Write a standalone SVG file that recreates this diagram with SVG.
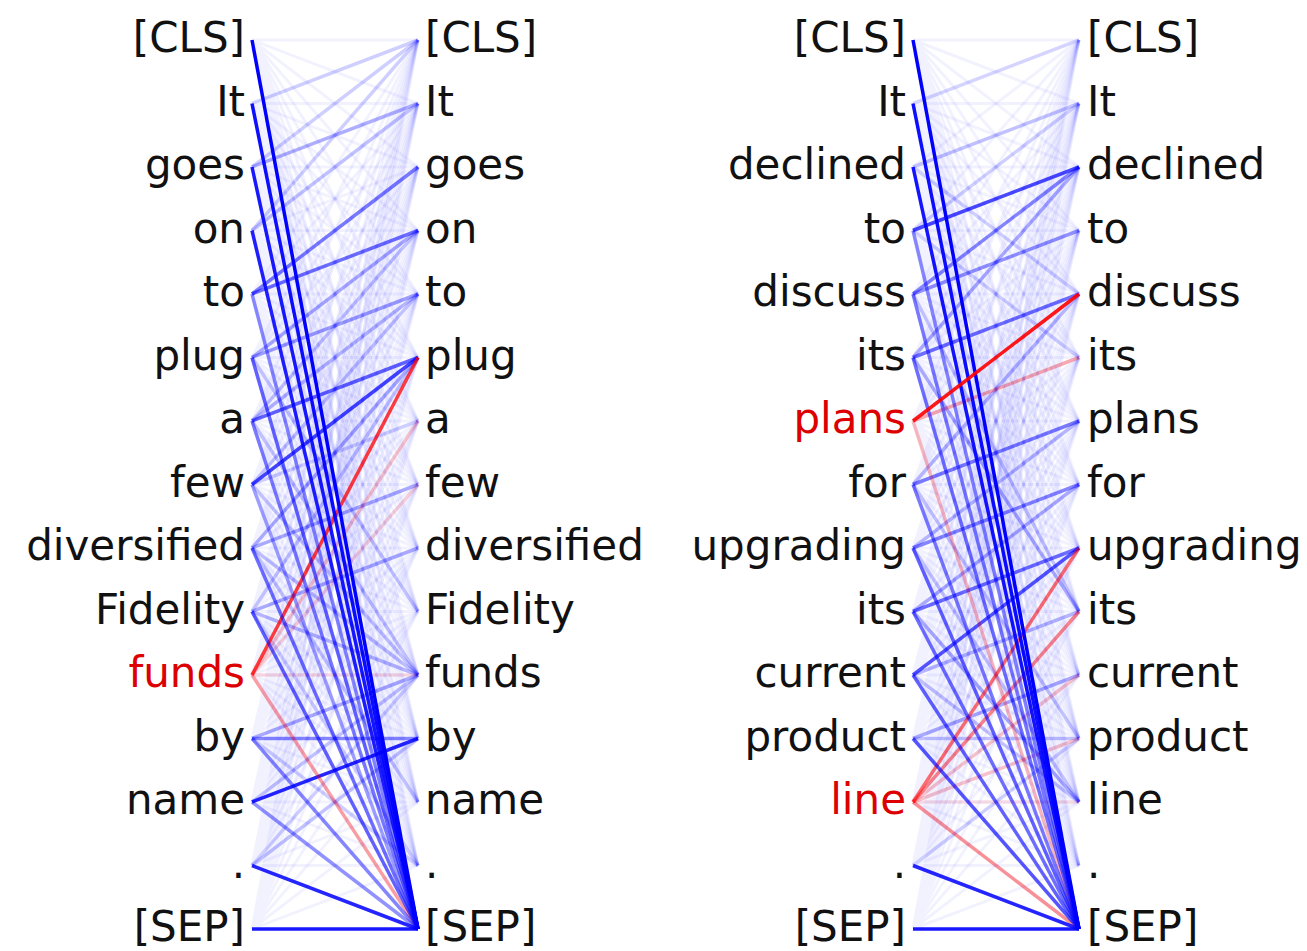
<svg xmlns="http://www.w3.org/2000/svg" xmlns:xlink="http://www.w3.org/1999/xlink" width="1307" height="951" viewBox="0 0 1307 951">
<style>
text{font-family:"DejaVu Sans","Noto Sans",sans-serif;font-size:42px;fill:#111}
.L{text-anchor:end}
.hl{fill:#dd0000}
.bg path{fill:none;stroke:#0000ff;stroke-opacity:0.05;stroke-width:3}
line{stroke-width:3.5;fill:none}
.b{stroke:#0000ff}
.r{stroke:#ff0000}
</style>
<rect width="1307" height="951" fill="#fff"/>
<defs>
<g id="bgfan" class="bg">
<path d="M252 40L418 40M252 40L418 103.5M252 40L418 167M252 40L418 230.5M252 40L418 294M252 40L418 357.5M252 40L418 421M252 40L418 484.5M252 40L418 548M252 40L418 611.5M252 40L418 675M252 40L418 738.5M252 40L418 802M252 40L418 865.5M252 40L418 929"/>
<path d="M252 103.5L418 40M252 103.5L418 103.5M252 103.5L418 167M252 103.5L418 230.5M252 103.5L418 294M252 103.5L418 357.5M252 103.5L418 421M252 103.5L418 484.5M252 103.5L418 548M252 103.5L418 611.5M252 103.5L418 675M252 103.5L418 738.5M252 103.5L418 802M252 103.5L418 865.5M252 103.5L418 929"/>
<path d="M252 167L418 40M252 167L418 103.5M252 167L418 167M252 167L418 230.5M252 167L418 294M252 167L418 357.5M252 167L418 421M252 167L418 484.5M252 167L418 548M252 167L418 611.5M252 167L418 675M252 167L418 738.5M252 167L418 802M252 167L418 865.5M252 167L418 929"/>
<path d="M252 230.5L418 40M252 230.5L418 103.5M252 230.5L418 167M252 230.5L418 230.5M252 230.5L418 294M252 230.5L418 357.5M252 230.5L418 421M252 230.5L418 484.5M252 230.5L418 548M252 230.5L418 611.5M252 230.5L418 675M252 230.5L418 738.5M252 230.5L418 802M252 230.5L418 865.5M252 230.5L418 929"/>
<path d="M252 294L418 40M252 294L418 103.5M252 294L418 167M252 294L418 230.5M252 294L418 294M252 294L418 357.5M252 294L418 421M252 294L418 484.5M252 294L418 548M252 294L418 611.5M252 294L418 675M252 294L418 738.5M252 294L418 802M252 294L418 865.5M252 294L418 929"/>
<path d="M252 357.5L418 40M252 357.5L418 103.5M252 357.5L418 167M252 357.5L418 230.5M252 357.5L418 294M252 357.5L418 357.5M252 357.5L418 421M252 357.5L418 484.5M252 357.5L418 548M252 357.5L418 611.5M252 357.5L418 675M252 357.5L418 738.5M252 357.5L418 802M252 357.5L418 865.5M252 357.5L418 929"/>
<path d="M252 421L418 40M252 421L418 103.5M252 421L418 167M252 421L418 230.5M252 421L418 294M252 421L418 357.5M252 421L418 421M252 421L418 484.5M252 421L418 548M252 421L418 611.5M252 421L418 675M252 421L418 738.5M252 421L418 802M252 421L418 865.5M252 421L418 929"/>
<path d="M252 484.5L418 40M252 484.5L418 103.5M252 484.5L418 167M252 484.5L418 230.5M252 484.5L418 294M252 484.5L418 357.5M252 484.5L418 421M252 484.5L418 484.5M252 484.5L418 548M252 484.5L418 611.5M252 484.5L418 675M252 484.5L418 738.5M252 484.5L418 802M252 484.5L418 865.5M252 484.5L418 929"/>
<path d="M252 548L418 40M252 548L418 103.5M252 548L418 167M252 548L418 230.5M252 548L418 294M252 548L418 357.5M252 548L418 421M252 548L418 484.5M252 548L418 548M252 548L418 611.5M252 548L418 675M252 548L418 738.5M252 548L418 802M252 548L418 865.5M252 548L418 929"/>
<path d="M252 611.5L418 40M252 611.5L418 103.5M252 611.5L418 167M252 611.5L418 230.5M252 611.5L418 294M252 611.5L418 357.5M252 611.5L418 421M252 611.5L418 484.5M252 611.5L418 548M252 611.5L418 611.5M252 611.5L418 675M252 611.5L418 738.5M252 611.5L418 802M252 611.5L418 865.5M252 611.5L418 929"/>
<path d="M252 675L418 40M252 675L418 103.5M252 675L418 167M252 675L418 230.5M252 675L418 294M252 675L418 357.5M252 675L418 421M252 675L418 484.5M252 675L418 548M252 675L418 611.5M252 675L418 675M252 675L418 738.5M252 675L418 802M252 675L418 865.5M252 675L418 929"/>
<path d="M252 738.5L418 40M252 738.5L418 103.5M252 738.5L418 167M252 738.5L418 230.5M252 738.5L418 294M252 738.5L418 357.5M252 738.5L418 421M252 738.5L418 484.5M252 738.5L418 548M252 738.5L418 611.5M252 738.5L418 675M252 738.5L418 738.5M252 738.5L418 802M252 738.5L418 865.5M252 738.5L418 929"/>
<path d="M252 802L418 40M252 802L418 103.5M252 802L418 167M252 802L418 230.5M252 802L418 294M252 802L418 357.5M252 802L418 421M252 802L418 484.5M252 802L418 548M252 802L418 611.5M252 802L418 675M252 802L418 738.5M252 802L418 802M252 802L418 865.5M252 802L418 929"/>
<path d="M252 865.5L418 40M252 865.5L418 103.5M252 865.5L418 167M252 865.5L418 230.5M252 865.5L418 294M252 865.5L418 357.5M252 865.5L418 421M252 865.5L418 484.5M252 865.5L418 548M252 865.5L418 611.5M252 865.5L418 675M252 865.5L418 738.5M252 865.5L418 802M252 865.5L418 865.5M252 865.5L418 929"/>
<path d="M252 929L418 40M252 929L418 103.5M252 929L418 167M252 929L418 230.5M252 929L418 294M252 929L418 357.5M252 929L418 421M252 929L418 484.5M252 929L418 548M252 929L418 611.5M252 929L418 675M252 929L418 738.5M252 929L418 802M252 929L418 865.5M252 929L418 929"/>
</g>
</defs>
<g id="connectors">
<g id="conn-left">
<use href="#bgfan" xlink:href="#bgfan"/>
<line class="b" x1="252" y1="103.5" x2="418" y2="40" stroke-opacity="0.15"/>
<line class="b" x1="252" y1="167" x2="418" y2="40" stroke-opacity="0.15"/>
<line class="b" x1="252" y1="230.5" x2="418" y2="40" stroke-opacity="0.15"/>
<line class="b" x1="252" y1="167" x2="418" y2="103.5" stroke-opacity="0.28"/>
<line class="b" x1="252" y1="230.5" x2="418" y2="103.5" stroke-opacity="0.2"/>
<line class="b" x1="252" y1="294" x2="418" y2="167" stroke-opacity="0.5"/>
<line class="b" x1="252" y1="294" x2="418" y2="230.5" stroke-opacity="0.55"/>
<line class="b" x1="252" y1="357.5" x2="418" y2="294" stroke-opacity="0.35"/>
<line class="b" x1="252" y1="357.5" x2="418" y2="230.5" stroke-opacity="0.3"/>
<line class="b" x1="252" y1="421" x2="418" y2="230.5" stroke-opacity="0.2"/>
<line class="b" x1="252" y1="421" x2="418" y2="294" stroke-opacity="0.25"/>
<line class="b" x1="252" y1="484.5" x2="418" y2="294" stroke-opacity="0.2"/>
<line class="b" x1="252" y1="421" x2="418" y2="357.5" stroke-opacity="0.6"/>
<line class="b" x1="252" y1="484.5" x2="418" y2="357.5" stroke-opacity="0.72"/>
<line class="b" x1="252" y1="548" x2="418" y2="357.5" stroke-opacity="0.3"/>
<line class="b" x1="252" y1="611.5" x2="418" y2="357.5" stroke-opacity="0.2"/>
<line class="b" x1="252" y1="484.5" x2="418" y2="421" stroke-opacity="0.15"/>
<line class="b" x1="252" y1="548" x2="418" y2="484.5" stroke-opacity="0.3"/>
<line class="b" x1="252" y1="611.5" x2="418" y2="548" stroke-opacity="0.3"/>
<line class="b" x1="252" y1="357.5" x2="418" y2="611.5" stroke-opacity="0.2"/>
<line class="b" x1="252" y1="421" x2="418" y2="675" stroke-opacity="0.2"/>
<line class="b" x1="252" y1="484.5" x2="418" y2="675" stroke-opacity="0.2"/>
<line class="b" x1="252" y1="548" x2="418" y2="675" stroke-opacity="0.22"/>
<line class="b" x1="252" y1="611.5" x2="418" y2="675" stroke-opacity="0.25"/>
<line class="b" x1="252" y1="548" x2="418" y2="802" stroke-opacity="0.2"/>
<line class="b" x1="252" y1="611.5" x2="418" y2="865.5" stroke-opacity="0.15"/>
<line class="b" x1="252" y1="738.5" x2="418" y2="675" stroke-opacity="0.3"/>
<line class="b" x1="252" y1="802" x2="418" y2="675" stroke-opacity="0.2"/>
<line class="b" x1="252" y1="865.5" x2="418" y2="738.5" stroke-opacity="0.2"/>
<line class="b" x1="252" y1="865.5" x2="418" y2="675" stroke-opacity="0.15"/>
<line class="b" x1="252" y1="738.5" x2="418" y2="865.5" stroke-opacity="0.15"/>
<line class="b" x1="252" y1="738.5" x2="418" y2="738.5" stroke-opacity="0.45"/>
<line class="b" x1="252" y1="802" x2="418" y2="738.5" stroke-opacity="0.85"/>
<line class="r" x1="252" y1="675" x2="418" y2="675" stroke-opacity="0.12"/>
<line class="r" x1="252" y1="675" x2="418" y2="421" stroke-opacity="0.2"/>
<line class="r" x1="252" y1="675" x2="418" y2="484.5" stroke-opacity="0.15"/>
<line class="r" x1="252" y1="675" x2="418" y2="929" stroke-opacity="0.35"/>
<line class="r" x1="252" y1="675" x2="418" y2="357.5" stroke-opacity="0.75"/>
<line class="b" x1="252" y1="294" x2="418" y2="929" stroke-opacity="0.45"/>
<line class="b" x1="252" y1="357.5" x2="418" y2="929" stroke-opacity="0.6"/>
<line class="b" x1="252" y1="421" x2="418" y2="929" stroke-opacity="0.5"/>
<line class="b" x1="252" y1="484.5" x2="418" y2="929" stroke-opacity="0.35"/>
<line class="b" x1="252" y1="548" x2="418" y2="929" stroke-opacity="0.55"/>
<line class="b" x1="252" y1="611.5" x2="418" y2="929" stroke-opacity="0.6"/>
<line class="b" x1="252" y1="738.5" x2="418" y2="929" stroke-opacity="0.45"/>
<line class="b" x1="252" y1="802" x2="418" y2="929" stroke-opacity="0.4"/>
<line class="b" x1="252" y1="865.5" x2="418" y2="929" stroke-opacity="0.85"/>
<line class="b" x1="252" y1="929" x2="418" y2="929" stroke-opacity="0.9"/>
<line class="b" x1="252" y1="230.5" x2="418" y2="929" stroke-opacity="0.88"/>
<line class="b" x1="252" y1="167" x2="418" y2="929" stroke-opacity="0.9"/>
<line class="b" x1="252" y1="103.5" x2="418" y2="929" stroke-opacity="0.95"/>
<line class="b" x1="252" y1="40" x2="418" y2="929" stroke-opacity="1"/>
</g>
<g id="conn-right" transform="translate(661 0)">
<use href="#bgfan" xlink:href="#bgfan"/>
<line class="b" x1="252" y1="103.5" x2="418" y2="40" stroke-opacity="0.12"/>
<line class="b" x1="252" y1="167" x2="418" y2="103.5" stroke-opacity="0.2"/>
<line class="b" x1="252" y1="230.5" x2="418" y2="103.5" stroke-opacity="0.15"/>
<line class="b" x1="252" y1="230.5" x2="418" y2="167" stroke-opacity="0.7"/>
<line class="b" x1="252" y1="294" x2="418" y2="167" stroke-opacity="0.45"/>
<line class="b" x1="252" y1="294" x2="418" y2="230.5" stroke-opacity="0.4"/>
<line class="b" x1="252" y1="357.5" x2="418" y2="167" stroke-opacity="0.3"/>
<line class="b" x1="252" y1="357.5" x2="418" y2="294" stroke-opacity="0.55"/>
<line class="b" x1="252" y1="484.5" x2="418" y2="421" stroke-opacity="0.5"/>
<line class="b" x1="252" y1="484.5" x2="418" y2="294" stroke-opacity="0.25"/>
<line class="b" x1="252" y1="548" x2="418" y2="484.5" stroke-opacity="0.45"/>
<line class="b" x1="252" y1="548" x2="418" y2="421" stroke-opacity="0.25"/>
<line class="b" x1="252" y1="611.5" x2="418" y2="548" stroke-opacity="0.55"/>
<line class="b" x1="252" y1="611.5" x2="418" y2="484.5" stroke-opacity="0.3"/>
<line class="b" x1="252" y1="675" x2="418" y2="548" stroke-opacity="0.65"/>
<line class="b" x1="252" y1="675" x2="418" y2="611.5" stroke-opacity="0.25"/>
<line class="b" x1="252" y1="738.5" x2="418" y2="675" stroke-opacity="0.3"/>
<line class="b" x1="252" y1="738.5" x2="418" y2="738.5" stroke-opacity="0.2"/>
<line class="b" x1="252" y1="865.5" x2="418" y2="738.5" stroke-opacity="0.15"/>
<line class="b" x1="252" y1="357.5" x2="418" y2="611.5" stroke-opacity="0.3"/>
<line class="b" x1="252" y1="294" x2="418" y2="611.5" stroke-opacity="0.2"/>
<line class="b" x1="252" y1="484.5" x2="418" y2="738.5" stroke-opacity="0.2"/>
<line class="b" x1="252" y1="548" x2="418" y2="802" stroke-opacity="0.2"/>
<line class="b" x1="252" y1="611.5" x2="418" y2="802" stroke-opacity="0.3"/>
<line class="b" x1="252" y1="675" x2="418" y2="802" stroke-opacity="0.2"/>
<line class="b" x1="252" y1="230.5" x2="418" y2="357.5" stroke-opacity="0.15"/>
<line class="b" x1="252" y1="167" x2="418" y2="294" stroke-opacity="0.15"/>
<line class="r" x1="252" y1="421" x2="418" y2="357.5" stroke-opacity="0.3"/>
<line class="r" x1="252" y1="421" x2="418" y2="929" stroke-opacity="0.25"/>
<line class="r" x1="252" y1="802" x2="418" y2="802" stroke-opacity="0.1"/>
<line class="r" x1="252" y1="802" x2="418" y2="738.5" stroke-opacity="0.2"/>
<line class="r" x1="252" y1="802" x2="418" y2="675" stroke-opacity="0.2"/>
<line class="r" x1="252" y1="802" x2="418" y2="611.5" stroke-opacity="0.45"/>
<line class="r" x1="252" y1="802" x2="418" y2="548" stroke-opacity="0.55"/>
<line class="r" x1="252" y1="802" x2="418" y2="929" stroke-opacity="0.4"/>
<line class="b" x1="252" y1="230.5" x2="418" y2="929" stroke-opacity="0.45"/>
<line class="b" x1="252" y1="294" x2="418" y2="929" stroke-opacity="0.5"/>
<line class="b" x1="252" y1="357.5" x2="418" y2="929" stroke-opacity="0.55"/>
<line class="b" x1="252" y1="484.5" x2="418" y2="929" stroke-opacity="0.5"/>
<line class="b" x1="252" y1="548" x2="418" y2="929" stroke-opacity="0.6"/>
<line class="b" x1="252" y1="611.5" x2="418" y2="929" stroke-opacity="0.55"/>
<line class="b" x1="252" y1="675" x2="418" y2="929" stroke-opacity="0.6"/>
<line class="b" x1="252" y1="738.5" x2="418" y2="929" stroke-opacity="0.65"/>
<line class="b" x1="252" y1="865.5" x2="418" y2="929" stroke-opacity="0.85"/>
<line class="b" x1="252" y1="929" x2="418" y2="929" stroke-opacity="0.9"/>
<line class="b" x1="252" y1="167" x2="418" y2="929" stroke-opacity="0.92"/>
<line class="b" x1="252" y1="103.5" x2="418" y2="929" stroke-opacity="0.95"/>
<line class="b" x1="252" y1="40" x2="418" y2="929" stroke-opacity="1"/>
<line class="r" x1="252" y1="421" x2="418" y2="294" stroke-opacity="0.9"/>
</g>
</g>
<g id="left-a-tokens">
<g id="la0"><text class="L" x="245" y="52">[CLS]</text></g>
<g id="la1"><text class="L" x="245" y="115.5">It</text></g>
<g id="la2"><text class="L" x="245" y="179">goes</text></g>
<g id="la3"><text class="L" x="245" y="242.5">on</text></g>
<g id="la4"><text class="L" x="245" y="306">to</text></g>
<g id="la5"><text class="L" x="245" y="369.5">plug</text></g>
<g id="la6"><text class="L" x="245" y="433">a</text></g>
<g id="la7"><text class="L" x="245" y="496.5">few</text></g>
<g id="la8"><text class="L" x="245" y="560">diversified</text></g>
<g id="la9"><text class="L" x="245" y="623.5">Fidelity</text></g>
<g id="la10"><text class="L hl" x="245" y="687">funds</text></g>
<g id="la11"><text class="L" x="245" y="750.5">by</text></g>
<g id="la12"><text class="L" x="245" y="814">name</text></g>
<g id="la13"><text class="L" x="245" y="877.5">.</text></g>
<g id="la14"><text class="L" x="245" y="941">[SEP]</text></g>
</g>
<g id="right-a-tokens">
<g id="ra0"><text x="425" y="52">[CLS]</text></g>
<g id="ra1"><text x="425" y="115.5">It</text></g>
<g id="ra2"><text x="425" y="179">goes</text></g>
<g id="ra3"><text x="425" y="242.5">on</text></g>
<g id="ra4"><text x="425" y="306">to</text></g>
<g id="ra5"><text x="425" y="369.5">plug</text></g>
<g id="ra6"><text x="425" y="433">a</text></g>
<g id="ra7"><text x="425" y="496.5">few</text></g>
<g id="ra8"><text x="425" y="560">diversified</text></g>
<g id="ra9"><text x="425" y="623.5">Fidelity</text></g>
<g id="ra10"><text x="425" y="687">funds</text></g>
<g id="ra11"><text x="425" y="750.5">by</text></g>
<g id="ra12"><text x="425" y="814">name</text></g>
<g id="ra13"><text x="425" y="877.5">.</text></g>
<g id="ra14"><text x="425" y="941">[SEP]</text></g>
</g>
<g id="left-b-tokens">
<g id="lb0"><text class="L" x="906" y="52">[CLS]</text></g>
<g id="lb1"><text class="L" x="906" y="115.5">It</text></g>
<g id="lb2"><text class="L" x="906" y="179">declined</text></g>
<g id="lb3"><text class="L" x="906" y="242.5">to</text></g>
<g id="lb4"><text class="L" x="906" y="306">discuss</text></g>
<g id="lb5"><text class="L" x="906" y="369.5">its</text></g>
<g id="lb6"><text class="L hl" x="906" y="433">plans</text></g>
<g id="lb7"><text class="L" x="906" y="496.5">for</text></g>
<g id="lb8"><text class="L" x="906" y="560">upgrading</text></g>
<g id="lb9"><text class="L" x="906" y="623.5">its</text></g>
<g id="lb10"><text class="L" x="906" y="687">current</text></g>
<g id="lb11"><text class="L" x="906" y="750.5">product</text></g>
<g id="lb12"><text class="L hl" x="906" y="814">line</text></g>
<g id="lb13"><text class="L" x="906" y="877.5">.</text></g>
<g id="lb14"><text class="L" x="906" y="941">[SEP]</text></g>
</g>
<g id="right-b-tokens">
<g id="rb0"><text x="1087" y="52">[CLS]</text></g>
<g id="rb1"><text x="1087" y="115.5">It</text></g>
<g id="rb2"><text x="1087" y="179">declined</text></g>
<g id="rb3"><text x="1087" y="242.5">to</text></g>
<g id="rb4"><text x="1087" y="306">discuss</text></g>
<g id="rb5"><text x="1087" y="369.5">its</text></g>
<g id="rb6"><text x="1087" y="433">plans</text></g>
<g id="rb7"><text x="1087" y="496.5">for</text></g>
<g id="rb8"><text x="1087" y="560">upgrading</text></g>
<g id="rb9"><text x="1087" y="623.5">its</text></g>
<g id="rb10"><text x="1087" y="687">current</text></g>
<g id="rb11"><text x="1087" y="750.5">product</text></g>
<g id="rb12"><text x="1087" y="814">line</text></g>
<g id="rb13"><text x="1087" y="877.5">.</text></g>
<g id="rb14"><text x="1087" y="941">[SEP]</text></g>
</g>
</svg>
